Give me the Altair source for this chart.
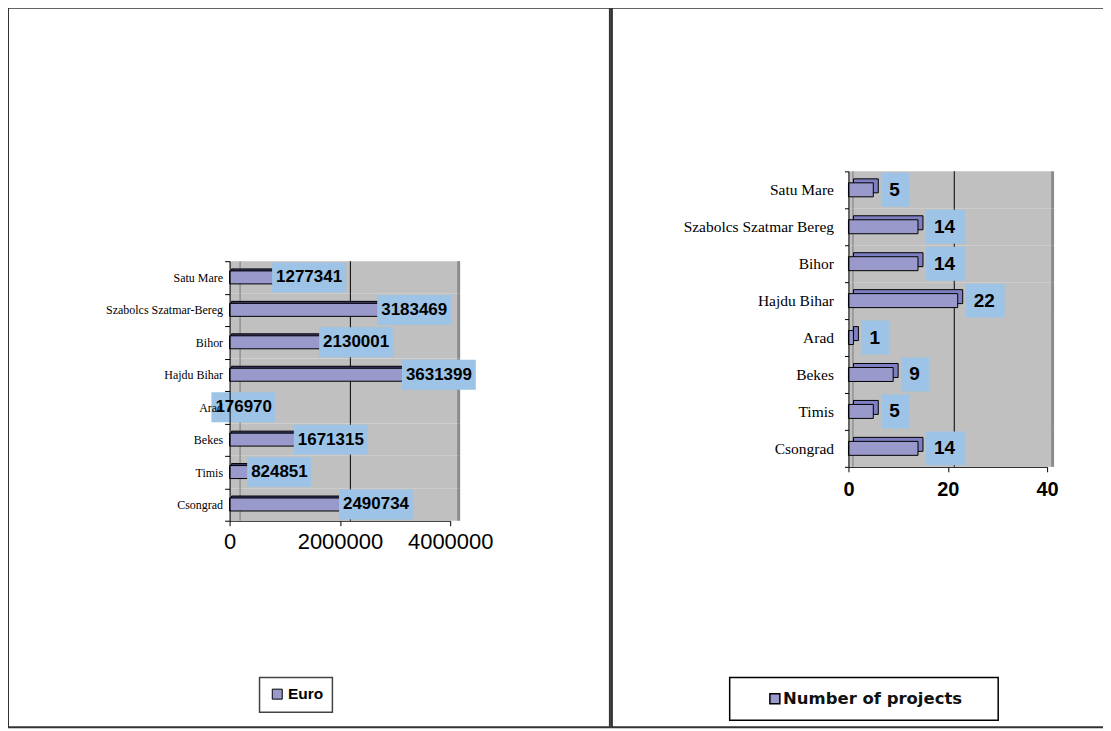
import altair as alt
import pandas as pd

# ---------------- data ----------------
regions_euro = ["Satu Mare", "Szabolcs Szatmar-Bereg", "Bihor", "Hajdu Bihar",
                "Arad", "Bekes", "Timis", "Csongrad"]
euro_values = [1277341, 3183469, 2130001, 3631399, 176970, 1671315, 824851, 2490734]
euro_series = "Euro"
euro_ticks = [0, 2000000, 4000000]

regions_proj = ["Satu Mare", "Szabolcs Szatmar Bereg", "Bihor", "Hajdu Bihar",
                "Arad", "Bekes", "Timis", "Csongrad"]
project_values = [5, 14, 14, 22, 1, 9, 5, 14]
proj_series = "Number of projects"
proj_ticks = [0, 20, 40]

# ---------------- style ----------------
PANEL_H = 721
WALL = "#C0C0C0"
BAR = "#9999CC"
BOX = "#9DC3E6"


def panel(regions, values, series, ticks, c):
    df = pd.DataFrame({"region": regions, "v": values, "series": series})
    base = alt.Chart(df).transform_calculate(lbl="toString(datum.v)")

    ys = alt.Scale(range=c["yr"], paddingInner=0, paddingOuter=0)
    ya = alt.Axis(title=None, orient="left", offset=-c["xr"][0], grid=False,
                  domainColor="black", tickColor="black", tickSize=c["ytick"],
                  tickBand="extent", labelFont="Liberation Serif",
                  labelFontSize=c["yfs"], labelColor="black",
                  labelPadding=c["ypad"], labelLimit=400, zindex=1)
    xs = alt.Scale(domain=[ticks[0], ticks[-1]], range=c["xr"], nice=False, zero=True)
    xa = alt.Axis(title=None, orient="bottom", offset=-(PANEL_H - c["yr"][1]),
                  values=ticks, format="d", grid=False, labelOverlap=False,
                  labelFlush=False, domainColor="black", tickColor="black",
                  tickSize=5, labelFont="Liberation Sans", labelFontSize=c["xfs"],
                  labelFontWeight=c["xfw"], labelColor="black",
                  labelPadding=c["xpad"])
    y = alt.Y("region:N", sort=regions, scale=ys, axis=ya)
    xv = alt.X("v:Q", scale=xs, axis=xa)

    def xd(v):
        return alt.XDatum(v, type="quantitative", scale=xs, axis=xa)

    wall = base.mark_rect(color=WALL, x2Offset=c["edge"]).encode(
        x=xd(ticks[0]), x2=alt.X2Datum(ticks[-1]), y=y)
    wall_edge = base.mark_rect(color="#8C8C8C", xOffset=c["edge"] - 2,
                               x2Offset=c["edge"] + 1).encode(
        x=xd(ticks[-1]), x2=alt.X2Datum(ticks[-1]), y=y)
    wall_back = base.mark_rect(color="#7A7A7A", xOffset=c["back"],
                               x2Offset=c["back"] + 1).encode(
        x=xd(ticks[0]), x2=alt.X2Datum(ticks[0]), y=y)
    grid = base.mark_rect(color="black", xOffset=c["grid"],
                          x2Offset=c["grid"] + 1).encode(
        x=xd(ticks[1]), x2=alt.X2Datum(ticks[1]), y=y)

    depth = base.mark_bar(size=c["bh"], color=c["depth"], stroke="black",
                          strokeWidth=1, xOffset=c["dx"], x2Offset=c["dx"],
                          yOffset=-c["dy"]).encode(x=xv, y=y)
    bars = base.mark_bar(size=c["bh"], stroke="black", strokeWidth=1).encode(
        x=xv, y=y,
        color=alt.Color("series:N", scale=alt.Scale(range=[BAR]),
                        legend=alt.Legend(**c["legend"])))

    layers = [wall, wall_back, wall_edge, grid, depth, bars]
    for n, right in c["boxes"].items():
        layers.append(
            base.transform_filter(f"length(datum.lbl) == {n}")
            .mark_bar(size=c["boxh"], color=BOX, xOffset=c["boxl"], x2Offset=right)
            .encode(x=xv, x2=alt.X2("v:Q"), y=y))
    layers.append(
        base.mark_text(align="left", baseline="middle", dx=c["tdx"],
                       font="Liberation Sans", fontWeight="bold",
                       fontSize=c["tfs"], color="black")
        .encode(x=xv, y=y, text=alt.Text("v:Q", format="d")))
    return alt.layer(*layers).properties(width=c["w"], height=PANEL_H)


left_cfg = dict(
    w=603, xr=[222, 443], yr=[254, 514], ytick=5, yfs=12, ypad=2,
    xfs=22, xfw="normal", xpad=6, edge=9, back=10, grid=10,
    bh=13, depth="#3A3A6A", dx=2, dy=2,
    boxes={7: 46, 6: 36}, boxh=30, boxl=-28, tdx=-24, tfs=17,
    legend=dict(orient="none", legendX=252, legendY=671, title=None, padding=9,
                symbolOffset=1, labelOffset=3, symbolType="square", symbolSize=100,
                symbolStrokeColor="black", symbolStrokeWidth=1,
                labelFont="Liberation Sans", labelFontSize=15.5,
                labelFontWeight="bold", labelColor="black", labelLimit=400,
                strokeColor="#444444", fillColor="white"),
)

right_cfg = dict(
    w=500, xr=[237, 436], yr=[164, 460], ytick=4, yfs=15.5, ypad=11,
    xfs=20, xfw="bold", xpad=8, edge=6, back=4, grid=6,
    bh=14, depth="#7E7EC2", dx=5, dy=4,
    boxes={1: 36, 2: 47}, boxh=34, boxl=8, tdx=16, tfs=19,
    legend=dict(orient="none", legendX=118, legendY=671, title=None, padding=13,
                symbolOffset=24, labelOffset=0, symbolType="square", symbolSize=100,
                symbolStrokeColor="black", symbolStrokeWidth=1.5,
                labelFont="DejaVu Sans", labelFontSize=16.5,
                labelFontWeight="bold", labelColor="#111111", labelLimit=600,
                labelExpr="datum.label + '\u00a0\u00a0\u00a0\u00a0\u200b'",
                strokeColor="black", fillColor="white"),
)

left = panel(regions_euro, euro_values, euro_series, euro_ticks, left_cfg)
right = panel(regions_proj, project_values, proj_series, proj_ticks, right_cfg)

chart = (
    alt.hconcat(left, right, spacing=0)
    .resolve_scale(x="independent", y="independent", color="independent")
    .resolve_legend(color="independent")
    .properties(padding={"top": -9, "bottom": 0, "left": -1, "right": -9},
                background="white")
    .configure_view(stroke="#333333", strokeWidth=2)
    .configure_legend(strokeWidth=1.5)
)

chart.save("out.html", embed_options={"renderer": "svg", "actions": False})
